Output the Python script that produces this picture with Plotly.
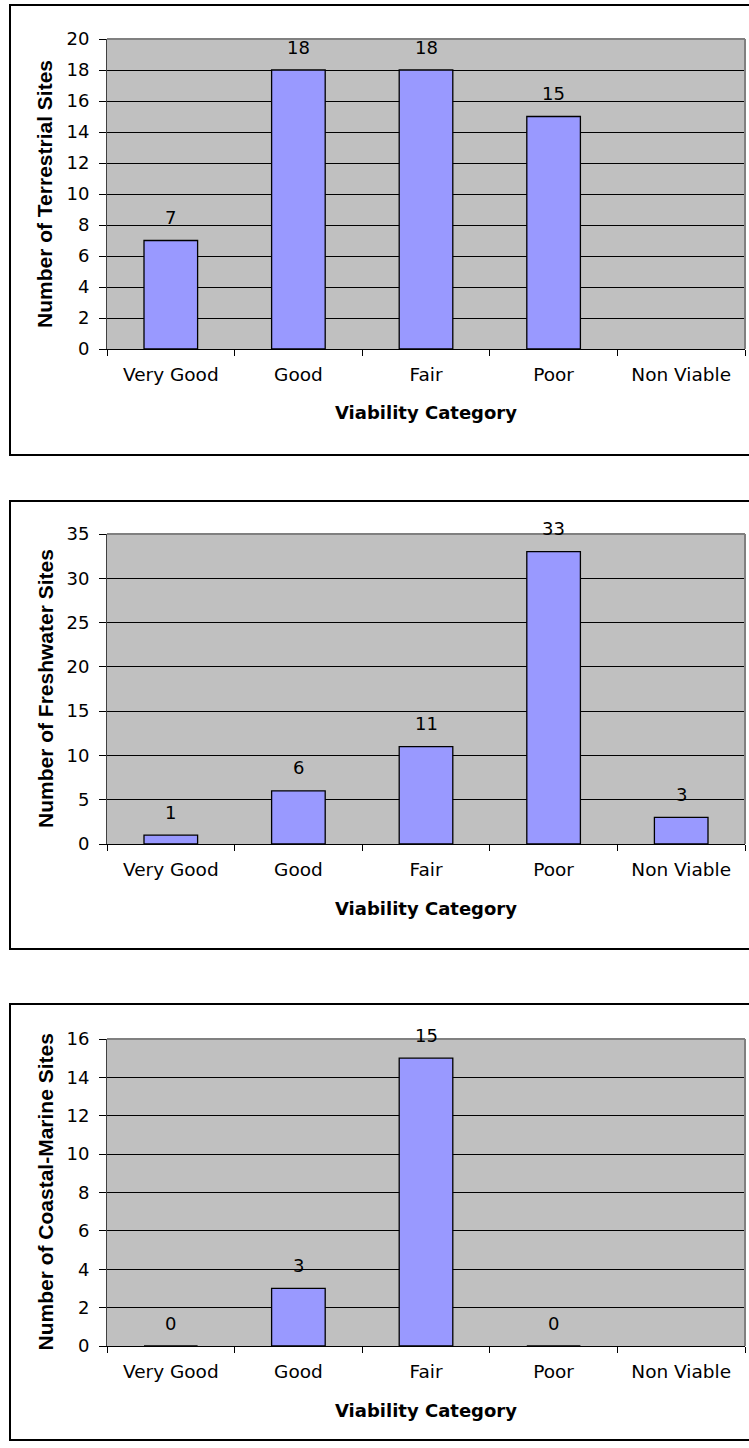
import plotly.graph_objects as go

# Site counts by viability category for three habitat groups
categories = ["Very Good", "Good", "Fair", "Poor", "Non Viable"]
terrestrial = [7, 18, 18, 15, None]
freshwater = [1, 6, 11, 33, 3]
coastal_marine = [0, 3, 15, 0, None]

y_titles = ["Number of Terrestrial Sites", "Number of Freshwater Sites",
            "Number of Coastal-Marine Sites"]
y_ranges = [(0, 20), (0, 35), (0, 16)]
y_steps = [2, 5, 2]
x_title = "Viability Category"

W, H = 749, 1448
# pixel layout of each panel: outer box (top, bottom) and plot area (top, bottom)
boxes = [(5, 455), (501, 949), (1004, 1440)]
plots = [(39, 349), (534, 844), (1039, 1346)]
plot_x = (107, 745)

BAR = "#9999FF"
PLOT_BG = "#C0C0C0"
NUM_FONT = dict(family="DejaVu Sans", size=18, color="black")
CAT_FONT = dict(family="DejaVu Sans", size=18.5, color="black")
XTITLE_FONT = dict(family="DejaVu Sans", size=18, color="black", weight="bold")
YTITLE_FONT = dict(family="Liberation Sans, Arial, sans-serif", size=21,
                   color="black", weight="bold")


def py(p):
    return 1 - p / H


def px(p):
    return p / W


fig = go.Figure()
series = [terrestrial, freshwater, coastal_marine]
shapes, annotations = [], []
layout = {}

for i, vals in enumerate(series):
    n = "" if i == 0 else str(i + 1)
    xa, ya = "x" + n, "y" + n
    fig.add_trace(go.Bar(
        x=categories, y=vals, xaxis=xa, yaxis=ya, width=0.42,
        marker=dict(color=BAR, line=dict(color="black", width=1.3)),
        showlegend=False, hoverinfo="x+y",
    ))
    top, bot = plots[i]
    layout["xaxis" + n] = dict(
        domain=[px(plot_x[0]), px(plot_x[1])], anchor=ya,
        type="category", categoryorder="array", categoryarray=categories,
        range=[-0.5, 4.5], tickson="boundaries", ticks="outside", ticklen=6,
        tickcolor="black", tickwidth=1, showline=True, linecolor="black",
        linewidth=1, showgrid=False, tickfont=CAT_FONT, ticklabelstandoff=9,
        fixedrange=True, automargin=False,
    )
    layout["yaxis" + n] = dict(
        domain=[py(bot), py(top)], anchor=xa, range=list(y_ranges[i]),
        dtick=y_steps[i], tick0=0, ticks="outside", ticklen=7,
        tickcolor="black", tickwidth=1, showline=True, linecolor="#404040",
        linewidth=1, showgrid=True, gridcolor="black", gridwidth=1,
        zeroline=False, tickfont=NUM_FONT, ticklabelstandoff=6,
        fixedrange=True, automargin=False,
    )
    # plot area frame (top and right edges)
    shapes.append(dict(type="line", xref=xa + " domain", yref=ya + " domain",
                       x0=0, x1=1, y0=1, y1=1,
                       line=dict(color="#808080", width=2)))
    shapes.append(dict(type="line", xref=xa + " domain", yref=ya + " domain",
                       x0=1, x1=1, y0=0, y1=1,
                       line=dict(color="#808080", width=2)))
    # chart box
    b0, b1 = boxes[i]
    shapes.append(dict(type="rect", xref="paper", yref="paper",
                       x0=px(10), x1=px(W + 10), y0=py(b1), y1=py(b0),
                       line=dict(color="black", width=2),
                       fillcolor="rgba(0,0,0,0)", layer="below"))
    # value labels
    for c, v in zip(categories, vals):
        if v is None:
            continue
        annotations.append(dict(x=c, y=v, xref=xa, yref=ya, text=str(v),
                                showarrow=False, yanchor="middle", yshift=23,
                                font=NUM_FONT))
    # axis titles
    annotations.append(dict(x=px((plot_x[0] + plot_x[1]) / 2),
                            y=py(bot + 64), xref="paper", yref="paper",
                            text=x_title, showarrow=False, yanchor="middle",
                            font=XTITLE_FONT))
    annotations.append(dict(x=px(45), y=py((top + bot) / 2),
                            xref="paper", yref="paper", text=y_titles[i],
                            showarrow=False, textangle=-90,
                            xanchor="center", yanchor="middle",
                            font=YTITLE_FONT))

fig.update_layout(
    width=W, height=H,
    margin=dict(l=0, r=0, t=0, b=0, pad=0, autoexpand=False),
    paper_bgcolor="white", plot_bgcolor=PLOT_BG,
    shapes=shapes, annotations=annotations,
    **layout,
)

fig.write_html("out.html", config={"displayModeBar": False},
               post_script="document.body.style.margin='0';")
